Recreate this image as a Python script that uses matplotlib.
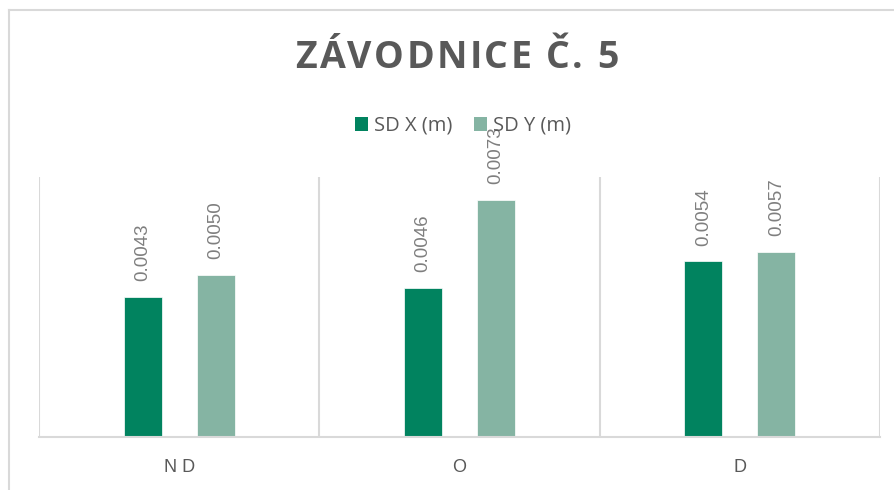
import matplotlib
matplotlib.use("Agg")
import matplotlib.pyplot as plt
from matplotlib.lines import Line2D
from matplotlib.patches import Patch
from matplotlib.font_manager import FontProperties
import numpy as np

categories = ["N D", "O", "D"]
sd_x = [0.0043, 0.0046, 0.0054]
sd_y = [0.0050, 0.0073, 0.0057]
series_names = ["SD X (m)", "SD Y (m)"]
colors = ["#01835F", "#85B4A3"]
title = "ZÁVODNICE Č. 5"

W, H = 895, 490
fig = plt.figure(figsize=(W / 100, H / 100), dpi=100)

# chart border (top and left visible)
fig.add_artist(Line2D([9 / W, 1], [1 - 10 / H, 1 - 10 / H], color="#d9d9d9", lw=1.5))
fig.add_artist(Line2D([9 / W, 9 / W], [0, 1 - 10 / H], color="#d9d9d9", lw=1.5))

left, right, top, bottom = 39, 880, 177, 437
ax = fig.add_axes([left / W, 1 - bottom / H, (right - left) / W, (bottom - top) / H])

x = np.arange(len(categories))
bw = 0.136
off = 0.13
b1 = ax.bar(x - off, sd_x, bw, color=colors[0], edgecolor="white", linewidth=0.5)
b2 = ax.bar(x + off, sd_y, bw, color=colors[1], edgecolor="white", linewidth=0.5)

ax.set_xlim(-0.5, len(categories) - 0.5)
ax.set_ylim(0, 0.008)
ax.set_yticks([])
ax.set_xticks(x)
ax.set_xticklabels(categories, fontfamily="Liberation Sans", fontsize=13, color="#595959")
ax.tick_params(axis="x", length=0, pad=16)

for s in ["top", "right", "left"]:
    ax.spines[s].set_visible(False)
ax.spines["bottom"].set_color("#d9d9d9")
ax.spines["bottom"].set_linewidth(1.5)

for b in [-0.5, 0.5, 1.5, 2.5]:
    ax.axvline(b, color="#d9d9d9", lw=1.5, zorder=0)

for bars in (b1, b2):
    for r in bars:
        v = r.get_height()
        ax.annotate(f"{v:.4f}", (r.get_x() + r.get_width() / 2, v),
                    xytext=(0, 11.5), textcoords="offset points",
                    rotation=90, ha="center", va="bottom",
                    fontfamily="Liberation Sans", fontsize=13.5, color="#7f7f7f",
                    annotation_clip=False)

# title with letter spacing
fp = FontProperties(family="Open Sans", weight="bold", size=27)
renderer = fig.canvas.get_renderer()


def text_w(s):
    t = fig.text(0, 0, s, fontproperties=fp)
    w = t.get_window_extent(renderer).width
    t.remove()
    return w


base = text_w("HH")
adv_px = [text_w("H" + ch + "H") - base for ch in title]
track = 2.4  # extra px between characters
total = sum(adv_px) + track * (len(title) - 1)
cx, cy = 457, 58.5
xpos = cx - total / 2
for ch, w in zip(title, adv_px):
    if ch != " ":
        fig.text(xpos / W, 1 - cy / H, ch, ha="left", va="center",
                 fontproperties=fp, color="#595959")
    xpos += w + track

handles = [Patch(facecolor=c) for c in colors]
leg = fig.legend(handles, series_names, loc="center", bbox_to_anchor=(463 / W, 1 - 126 / H),
                 ncol=2, frameon=False, prop={"family": "Open Sans", "size": 14.5},
                 handlelength=0.65, handleheight=0.65, handletextpad=0.3, columnspacing=1.1,
                 labelcolor="#595959")

fig.savefig("out.png", dpi=100)
